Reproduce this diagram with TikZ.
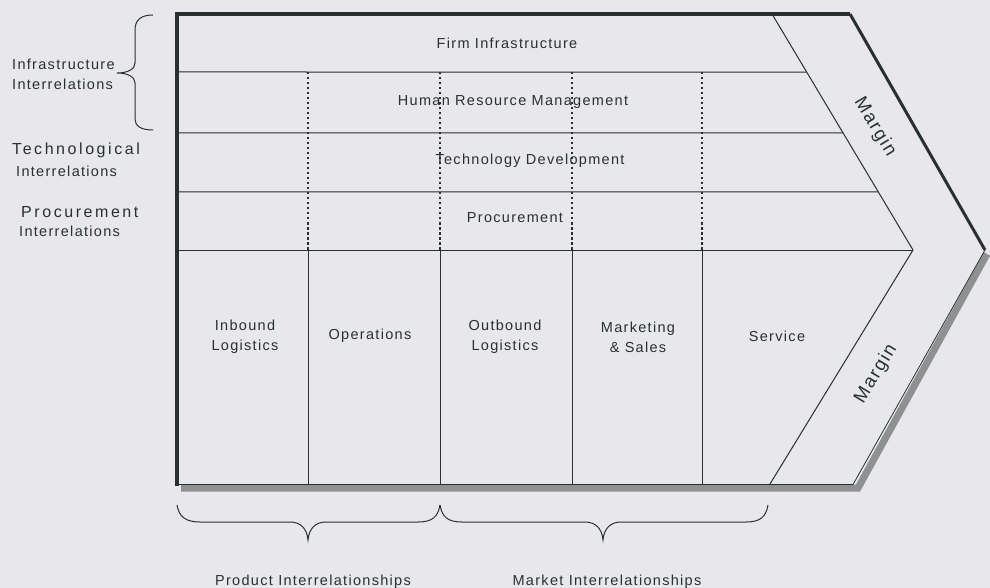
\documentclass[tikz,border=0pt]{standalone}
\usepackage{fontspec}
\usetikzlibrary{calc}
\newfontfamily\lab[LetterSpace=9]{Liberation Sans}
\newfontfamily\labwide[LetterSpace=16]{Liberation Sans}
\definecolor{paper}{HTML}{E8E8EC}
\definecolor{ink}{HTML}{28312D}
\definecolor{shade}{HTML}{8F9191}
\begin{document}
\begin{tikzpicture}[x=1pt,y=-1pt,
  txt/.style={font=\lab\fontsize{14.5}{20}\selectfont, text=ink, inner sep=0pt, align=center},
  wide/.style={font=\labwide\fontsize{16}{20}\selectfont, text=ink, inner sep=0pt},
  mtxt/.style={font=\lab\fontsize{18.5}{20}\selectfont, text=ink, inner sep=0pt},
  grid/.style={draw=ink, line width=1pt},
  dots/.style={draw=ink, line width=1.2pt, dash pattern=on 2.5pt off 2.5pt},
  frame/.style={draw=ink, line width=4pt, line join=miter},
  shadow/.style={draw=shade, line width=7pt, line join=miter},
  brace/.style={draw=ink, line width=1pt}]

\fill[paper] (0,0) rectangle (990,588);
\useasboundingbox (0,0) rectangle (990,588);

% outline of the value chain arrow
\coordinate (tl) at (177,14);
\coordinate (tr) at (850,14);
\coordinate (tip) at (985,250);
\coordinate (bl) at (177,486);
% margin boundary
\coordinate (mt) at (772,14);
\coordinate (mtip) at (913,250);
\coordinate (mb) at (770,484);

% shaded base and lower edge
\draw[shadow] (181,488) -- (858,488) -- (987,254);
\draw[ink, line width=0.8pt] (179,484.5) -- (853,484.5) -- (tip);

% rows of support activities
\foreach \y/\t in {72/0.2458, 133/0.5042, 192/0.7542}
  \draw[grid] (177,\y) -- ($(mt)!\t!(mtip)$);
\draw[grid] (177,250) -- (mtip);

% margin boundary
\draw[grid] (mt) -- (mtip) -- (mb);

% columns: dotted through support rows, solid through primary activities
\foreach \x in {308,440,572,702}{
  \draw[dots] (\x,72) -- (\x,250);
  \draw[grid] (\x,250) -- (\x,484);
}

% heavy frame
\draw[frame] (bl) -- (tl) -- (tr);
\draw[ink, line width=3pt] (tr) -- (tip);

% support activities
\node[txt] (firm) at (507,43) {Firm Infrastructure};
\node[txt] (hrm) at (513,102) {Human Resource Management};
\node[txt] (tech) at (530,161) {Technology Development};
\node[txt] (proc) at (515,218) {Procurement};

% primary activities
\node[txt] (inb) at (245,337) {Inbound\\Logistics};
\node[txt] (ops) at (370,336) {Operations};
\node[txt] (outb) at (505,337) {Outbound\\Logistics};
\node[txt] (mkt) at (638,337) {Marketing\\\& Sales};
\node[txt] (svc) at (777,336) {Service};

% margin labels
\node[mtxt, rotate=-59] (mup) at (875,127) {Margin};
\node[mtxt, rotate=59] (mlow) at (876,374) {Margin};

% interrelation labels on the left
\node[txt, anchor=base west] (inf1) at (12,70) {Infrastructure};
\node[txt, anchor=base west] (inf2) at (12,90) {Interrelations};
\node[wide, anchor=base west] (tec1) at (12,155) {Technological};
\node[txt, anchor=base west] (tec2) at (16,177) {Interrelations};
\node[wide, anchor=base west] (pro1) at (21,218) {Procurement};
\node[txt, anchor=base west] (pro2) at (19,236) {Interrelations};

% brace for infrastructure interrelations
\draw[brace] (153,15) .. controls (141,15) and (135,20) .. (135,30)
  -- (135,63) .. controls (135,69) and (128,73) .. (117,73)
  .. controls (128,73) and (135,77) .. (135,83)
  -- (135,119) .. controls (135,126) and (141,130) .. (153,130);

% braces under the primary activities
\draw[brace] (177,505) .. controls (179,517) and (186,522) .. (200,522)
  -- (290,522) .. controls (300,522) and (307,528) .. (308,540)
  .. controls (309,528) and (316,522) .. (326,522)
  -- (418,522) .. controls (432,522) and (438,517) .. (440,505);
\draw[brace] (440,505) .. controls (442,517) and (448,522) .. (462,522)
  -- (585,522) .. controls (595,522) and (602,528) .. (603,540)
  .. controls (604,528) and (611,522) .. (621,522)
  -- (746,522) .. controls (760,522) and (766,517) .. (768,505);

\node[txt, anchor=base] (prodrel) at (313,585) {Product Interrelationships};
\node[txt, anchor=base] (mktrel) at (607,585) {Market Interrelationships};
\end{tikzpicture}
\end{document}
